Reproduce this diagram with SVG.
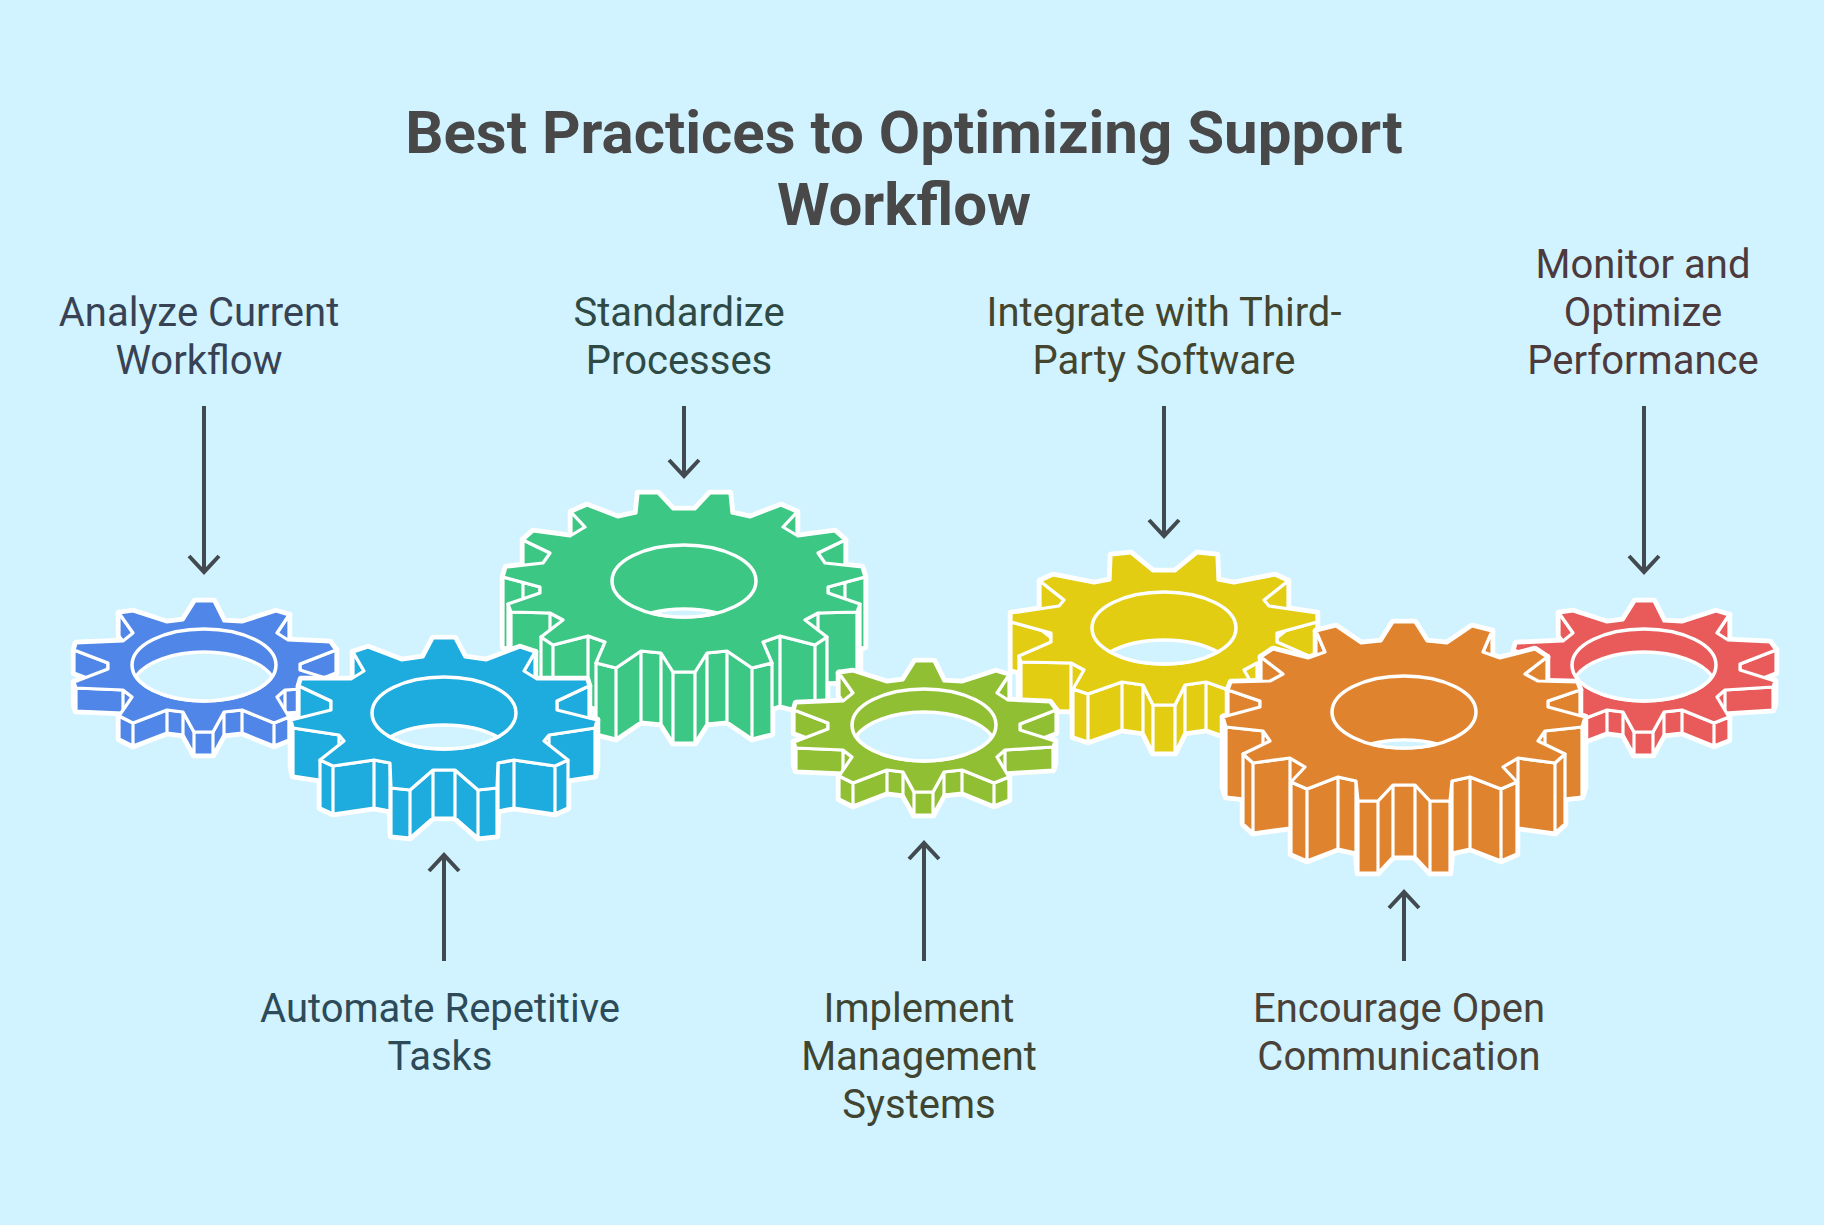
<svg xmlns="http://www.w3.org/2000/svg" width="1824" height="1225" viewBox="0 0 1824 1225">
<style>
text{font-family:Roboto,"Liberation Sans",sans-serif;text-anchor:middle}
.title{font-size:60px;font-weight:700;fill:#484848}
.lbl{font-size:40px}
.conn{stroke:#424a4f;stroke-width:4;fill:none;marker-end:url(#head)}
.halo{fill:#fff;stroke:#fff;stroke-width:6.5;stroke-linejoin:round}
.w{stroke:#fff;stroke-width:3.2;stroke-linejoin:round}
.hole{stroke:#fff;stroke-width:3.5}
.lens{fill:#d1f3ff;stroke:#fff;stroke-width:3.5}
</style>
<defs>
<marker id="head" markerUnits="userSpaceOnUse" markerWidth="40" markerHeight="40" refX="30" refY="20" orient="auto" overflow="visible"><path d="M14 5L30 20L14 35" fill="none" stroke="#424a4f" stroke-width="4"/></marker>

<path id="sF" d="M-9-64L10-64L20-44L38-43L72-54L85-50L73-32L84-25L126-23L132-15L96-1L96 5L131 16L129 22L81 25L73 32L85 52L70 58L38 45L20 47L9 67L-10 67L-21 47L-37 45L-71 58L-85 51L-72 32L-81 25L-128 23L-130 17L-96 4L-96-2L-130-15L-128-22L-81-24L-71-32L-85-52L-71-54L-37-43L-21-45Z"/>
<path id="s1" d="M85-50L73-32V-9L85-27ZM132-15L96-1V22L132 8ZM-96-2L-130-15V8L-96 21ZM-71-32L-85-52V-29L-71-9Z"/>
<path id="s2" d="M131 16L129 22V45L131 39ZM129 22L81 25V48L129 45ZM81 25L73 32V55L81 48ZM-72 32L-81 25V48L-72 55ZM-81 25L-128 23V46L-81 48ZM-128 23L-130 17V40L-128 46Z"/>
<path id="s3" d="M85 52L70 58V81L85 75ZM70 58L38 45V68L70 81ZM38 45L20 47V70L38 68ZM20 47L9 67V90L20 70ZM9 67L-10 67V90L9 90ZM-10 67L-21 47V70L-10 90ZM-21 47L-37 45V68L-21 70ZM-37 45L-71 58V81L-37 68ZM-71 58L-85 51V74L-71 81Z"/>
<g id="small">
<use href="#s1" class="halo"/><use href="#s2" class="halo"/><use href="#s3" class="halo"/><use href="#sF" class="halo"/>
<use href="#s1" class="w"/><use href="#s2" class="w"/><use href="#s3" class="w"/><use href="#sF" class="w"/>
<ellipse rx="72" ry="36" class="hole"/>
<path class="lens" d="M-68.2 11.5A72 36 0 0 1 68.2 11.5A72 36 0 0 1-68.2 11.5Z"/>
</g>

<path id="aF" d="M-11-75L11-75L21-56L42-53L76-66L91-61L80-42L93-34L143-34L145-27L113-12L113-3L153 7L151 15L105 22L100 28L124 47L111 53L70 47L54 50L53 75L34 77L11 57L-11 57L-34 77L-53 75L-54 50L-70 47L-111 53L-124 47L-100 28L-105 22L-151 15L-153 7L-113-3L-113-12L-145-27L-143-34L-93-34L-80-42L-91-61L-76-66L-42-53L-21-56Z"/>
<path id="a1" d="M91-61L80-42V6L91-13ZM145-27L113-12V36L145 21ZM-113-12L-145-27V21L-113 36ZM-80-42L-91-61V-13L-80 6Z"/>
<path id="a2" d="M153 7L151 15V63L153 55ZM151 15L105 22V70L151 63ZM105 22L100 28V76L105 70ZM-100 28L-105 22V70L-100 76ZM-105 22L-151 15V63L-105 70ZM-151 15L-153 7V55L-151 63Z"/>
<path id="a3" d="M124 47L111 53V101L124 95ZM111 53L70 47V95L111 101ZM70 47L54 50V98L70 95ZM54 50L53 75V123L54 98ZM53 75L34 77V125L53 123ZM34 77L11 57V105L34 125ZM11 57L-11 57V105L11 105ZM-11 57L-34 77V125L-11 105ZM-34 77L-53 75V123L-34 125ZM-53 75L-54 50V98L-53 123ZM-54 50L-70 47V95L-54 98ZM-70 47L-111 53V101L-70 95ZM-111 53L-124 47V95L-111 101Z"/>
<g id="medA">
<use href="#a1" class="halo"/><use href="#a2" class="halo"/><use href="#a3" class="halo"/><use href="#aF" class="halo"/>
<use href="#a1" class="w"/><use href="#a2" class="w"/><use href="#a3" class="w"/><use href="#aF" class="w"/>
<ellipse rx="72" ry="36" class="hole"/>
<path class="lens" d="M-53.7 24A72 36 0 0 1 53.7 24A72 36 0 0 1-53.7 24Z"/>
</g>

<path id="bF" d="M-11-57L11-57L33-75L53-73L54-48L70-45L111-53L124-47L100-28L105-22L153-15L153-6L113 5L113 14L145 28L143 34L93 35L80 42L91 61L76 66L42 54L21 57L11 77L-11 77L-21 57L-42 54L-76 66L-91 61L-80 42L-93 35L-143 34L-145 28L-113 14L-113 5L-153-6L-153-15L-105-22L-100-28L-124-47L-111-53L-70-45L-54-48L-53-73L-33-75Z"/>
<path id="b1" d="M124-47L100-28V20L124 1ZM153-6L113 5V53L153 42ZM-113 5L-153-6V42L-113 53ZM-100-28L-124-47V1L-100 20Z"/>
<path id="b2" d="M145 28L143 34V82L145 76ZM143 34L93 35V83L143 82ZM93 35L80 42V90L93 83ZM-80 42L-93 35V83L-80 90ZM-93 35L-143 34V82L-93 83ZM-143 34L-145 28V76L-143 82Z"/>
<path id="b3" d="M91 61L76 66V114L91 109ZM76 66L42 54V102L76 114ZM42 54L21 57V105L42 102ZM21 57L11 77V125L21 105ZM11 77L-11 77V125L11 125ZM-11 77L-21 57V105L-11 125ZM-21 57L-42 54V102L-21 105ZM-42 54L-76 66V114L-42 102ZM-76 66L-91 61V109L-76 114Z"/>
<g id="medB">
<use href="#b1" class="halo"/><use href="#b2" class="halo"/><use href="#b3" class="halo"/><use href="#bF" class="halo"/>
<use href="#b1" class="w"/><use href="#b2" class="w"/><use href="#b3" class="w"/><use href="#bF" class="w"/>
<ellipse rx="72" ry="36" class="hole"/>
<path class="lens" d="M-53.7 24A72 36 0 0 1 53.7 24A72 36 0 0 1-53.7 24Z"/>
</g>

<path id="cF" d="M-11-72L11-72L26-88L46-88L48-68L66-64L97-76L113-69L99-54L114-45L151-50L161-41L134-28L141-18L178-14L181-4L144 6L144 12L176 23L173 31L134 32L121 39L143 56L131 64L96 55L79 61L88 82L68 87L43 70L23 72L11 91L-11 91L-23 72L-43 70L-68 87L-88 82L-79 61L-96 55L-131 64L-143 56L-121 39L-134 32L-173 31L-176 23L-144 12L-144 6L-181-4L-178-14L-141-18L-134-28L-161-41L-151-50L-114-45L-99-54L-113-69L-97-76L-66-64L-48-68L-46-88L-26-88Z"/>
<path id="c1" d="M113-69L99-54V16L113 1ZM161-41L134-28V42L161 29ZM181-4L144 6V76L181 66ZM-144 6L-181-4V66L-144 76ZM-134-28L-161-41V29L-134 42ZM-99-54L-113-69V1L-99 16Z"/>
<path id="c2" d="M176 23L173 31V101L176 93ZM173 31L134 32V102L173 101ZM134 32L121 39V109L134 102ZM-121 39L-134 32V102L-121 109ZM-134 32L-173 31V101L-134 102ZM-173 31L-176 23V93L-173 101Z"/>
<path id="c3" d="M143 56L131 64V134L143 126ZM131 64L96 55V125L131 134ZM96 55L79 61V131L96 125ZM-79 61L-96 55V125L-79 131ZM-96 55L-131 64V134L-96 125ZM-131 64L-143 56V126L-131 134Z"/>
<path id="c4" d="M88 82L68 87V158L88 153ZM68 87L43 70V141L68 158ZM43 70L23 72V143L43 141ZM23 72L11 91V162L23 143ZM11 91L-11 91V162L11 162ZM-11 91L-23 72V143L-11 162ZM-23 72L-43 70V141L-23 143ZM-43 70L-68 87V158L-43 141ZM-68 87L-88 82V153L-68 158Z"/>
<g id="bigA">
<use href="#c1" class="halo"/><use href="#c2" class="halo"/><use href="#c3" class="halo"/><use href="#c4" class="halo"/><use href="#cF" class="halo"/>
<use href="#c1" class="w"/><use href="#c2" class="w"/><use href="#c3" class="w"/><use href="#c4" class="w"/><use href="#cF" class="w"/>
<ellipse rx="72" ry="36" class="hole"/>
<path class="lens" d="M-33 32A72 36 0 0 1 33 32A72 36 0 0 1-33 32Z"/>
</g>

<path id="dF" d="M-11-90L11-90L23-71L43-69L68-86L88-81L79-60L96-54L131-63L143-55L121-38L134-31L173-30L176-22L144-11L144-5L181 5L178 15L141 19L134 29L161 42L151 51L114 46L99 55L113 70L97 77L66 65L48 69L46 89L26 89L11 73L-11 73L-26 89L-46 89L-48 69L-66 65L-97 77L-113 70L-99 55L-114 46L-151 51L-161 42L-134 29L-141 19L-178 15L-181 5L-144-5L-144-11L-176-22L-173-30L-134-31L-121-38L-143-55L-131-63L-96-54L-79-60L-88-81L-68-86L-43-69L-23-71Z"/>
<path id="d1" d="M88-81L79-60V10L88-11ZM143-55L121-38V32L143 15ZM176-22L144-11V59L176 48ZM-144-11L-176-22V48L-144 59ZM-121-38L-143-55V15L-121 32ZM-79-60L-88-81V-11L-79 10Z"/>
<path id="d2" d="M181 5L178 15V85L181 75ZM178 15L141 19V89L178 85ZM141 19L134 29V99L141 89ZM-134 29L-141 19V89L-134 99ZM-141 19L-178 15V85L-141 89ZM-178 15L-181 5V75L-178 85Z"/>
<path id="d3" d="M161 42L151 51V121L161 112ZM151 51L114 46V116L151 121ZM114 46L99 55V125L114 116ZM-99 55L-114 46V116L-99 125ZM-114 46L-151 51V121L-114 116ZM-151 51L-161 42V112L-151 121Z"/>
<path id="d4" d="M113 70L97 77V149L113 142ZM97 77L66 65V137L97 149ZM66 65L48 69V141L66 137ZM48 69L46 89V161L48 141ZM46 89L26 89V161L46 161ZM26 89L11 73V145L26 161ZM11 73L-11 73V145L11 145ZM-11 73L-26 89V161L-11 145ZM-26 89L-46 89V161L-26 161ZM-46 89L-48 69V141L-46 161ZM-48 69L-66 65V137L-48 141ZM-66 65L-97 77V149L-66 137ZM-97 77L-113 70V142L-97 149Z"/>
<g id="bigB">
<use href="#d1" class="halo"/><use href="#d2" class="halo"/><use href="#d3" class="halo"/><use href="#d4" class="halo"/><use href="#dF" class="halo"/>
<use href="#d1" class="w"/><use href="#d2" class="w"/><use href="#d3" class="w"/><use href="#d4" class="w"/><use href="#dF" class="w"/>
<ellipse rx="72" ry="36" class="hole"/>
<path class="lens" d="M-33 32A72 36 0 0 1 33 32A72 36 0 0 1-33 32Z"/>
</g>
</defs>

<rect width="1824" height="1225" fill="#d1f3ff"/>
<g id="title"><text class="title" x="904" y="153">Best Practices to Optimizing Support</text><text class="title" x="904" y="225">Workflow</text></g>

<g id="connectors">
<line class="conn" x1="204" y1="406" x2="204" y2="572"/>
<line class="conn" x1="684" y1="406" x2="684" y2="476"/>
<line class="conn" x1="1164" y1="406" x2="1164" y2="536"/>
<line class="conn" x1="1644" y1="406" x2="1644" y2="572"/>
<line class="conn" x1="444" y1="961" x2="444" y2="855"/>
<line class="conn" x1="924" y1="961" x2="924" y2="843"/>
<line class="conn" x1="1404" y1="961" x2="1404" y2="892"/>
</g>

<g id="node-analyze" fill="#4f86e8"><use href="#small" transform="translate(204 665)"/><text class="lbl" fill="#374354" x="199" y="326">Analyze Current</text><text class="lbl" fill="#374354" x="199" y="374">Workflow</text></g>
<g id="node-standardize" fill="#3dc784"><use href="#bigA" transform="translate(684 581)"/><text class="lbl" fill="#2f4a45" x="679" y="326">Standardize</text><text class="lbl" fill="#2f4a45" x="679" y="374">Processes</text></g>
<g id="node-automate" fill="#1eabdd"><use href="#medA" transform="translate(444 713)"/><text class="lbl" fill="#2c4a58" x="440" y="1022">Automate Repetitive</text><text class="lbl" fill="#2c4a58" x="440" y="1070">Tasks</text></g>
<g id="node-integrate" fill="#e3cd12"><use href="#medB" transform="translate(1164 628)"/><text class="lbl" fill="#44452f" x="1164" y="326">Integrate with Third-</text><text class="lbl" fill="#44452f" x="1164" y="374">Party Software</text></g>
<g id="node-implement" fill="#90bf33"><use href="#small" transform="translate(924 725)"/><text class="lbl" fill="#3f4530" x="919" y="1022">Implement</text><text class="lbl" fill="#3f4530" x="919" y="1070">Management</text><text class="lbl" fill="#3f4530" x="919" y="1118">Systems</text></g>
<g id="node-monitor" fill="#e95b5b"><use href="#small" transform="translate(1644 665)"/><text class="lbl" fill="#4c3a3d" x="1643" y="278">Monitor and</text><text class="lbl" fill="#4c3a3d" x="1643" y="326">Optimize</text><text class="lbl" fill="#4c3a3d" x="1643" y="374">Performance</text></g>
<g id="node-encourage" fill="#df832f"><use href="#bigB" transform="translate(1404 712)"/><text class="lbl" fill="#4a4238" x="1399" y="1022">Encourage Open</text><text class="lbl" fill="#4a4238" x="1399" y="1070">Communication</text></g>
</svg>
